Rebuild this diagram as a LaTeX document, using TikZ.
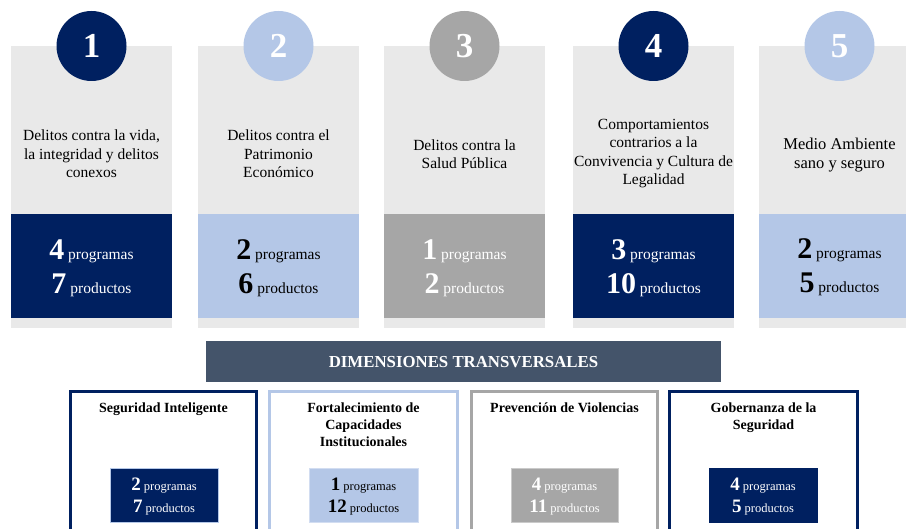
\documentclass[tikz,border=0pt]{standalone}
\usepackage{fontspec}
\setmainfont{Liberation Serif}
\usetikzlibrary{positioning}
\definecolor{navy}{HTML}{002060}
\definecolor{lightblue}{HTML}{B4C7E7}
\definecolor{midgray}{HTML}{A6A6A6}
\definecolor{cardgray}{HTML}{E9E9E9}
\definecolor{slate}{HTML}{44546A}
\newcommand{\bignum}[1]{{\fontsize{30}{30}\selectfont\bfseries #1}}
\newcommand{\smallnum}[1]{{\fontsize{19}{19}\selectfont\bfseries #1}}
\tikzset{
	numcircle/.style={circle,minimum size=70pt,inner sep=0pt,text=white,font=\fontsize{35}{35}\selectfont\bfseries},
	cardtext/.style={align=center,inner sep=0pt,font=\fontsize{15.5}{18.5}\selectfont},
	countline/.style={anchor=base,inner sep=0pt,font=\fontsize{15.5}{18}\selectfont},
	bannertext/.style={inner sep=0pt,text=white,font=\fontsize{16.8}{18}\selectfont\bfseries},
	dimbox/.style={line width=3pt},
	dimtitle/.style={anchor=north,align=center,inner sep=0pt,font=\fontsize{14}{17}\selectfont\bfseries},
	countbox/.style={line width=0.8pt},
	smallcount/.style={anchor=base,inner sep=0pt,font=\fontsize{12.5}{14}\selectfont},
}

\begin{document}
\begin{tikzpicture}[x=1pt,y=-1pt]
	\clip (0,0) rectangle (906,529);
	\fill [white] (0,0) rectangle (906,529);
	
	% card 1.....................
	\fill [cardgray] (11,46) rectangle (172,328);
	\fill [navy] (11,214) rectangle (172,318);
	\node [numcircle, fill=navy] (c1) at (91.5,46) {1};
	\node [cardtext] (d1) at (91.5,154) {Delitos contra la vida,\\la integridad y delitos\\conexos};
	\node [countline, text=white] (p1) at (91.5,260) {\bignum{4} programas};
	\node [countline, text=white] (q1) at (91.5,294) {\bignum{7} productos};
	
	% card 2.....................
	\fill [cardgray] (198,46) rectangle (359,328);
	\fill [lightblue] (198,214) rectangle (359,318);
	\node [numcircle, fill=lightblue] (c2) at (278.5,46) {2};
	\node [cardtext] (d2) at (278.5,154) {Delitos contra el\\Patrimonio\\Económico};
	\node [countline] (p2) at (278.5,260) {\bignum{2} programas};
	\node [countline] (q2) at (278.5,294) {\bignum{6} productos};
	
	% card 3.....................
	\fill [cardgray] (384,46) rectangle (545,328);
	\fill [midgray] (384,214) rectangle (545,318);
	\node [numcircle, fill=midgray] (c3) at (464.5,46) {3};
	\node [cardtext] (d3) at (464.5,154) {Delitos contra la\\Salud Pública};
	\node [countline, text=white] (p3) at (464.5,260) {\bignum{1} programas};
	\node [countline, text=white] (q3) at (464.5,294) {\bignum{2} productos};
	
	% card 4.....................
	\fill [cardgray] (573,46) rectangle (734,328);
	\fill [navy] (573,214) rectangle (734,318);
	\node [numcircle, fill=navy] (c4) at (653.5,46) {4};
	\node [cardtext] (d4) at (653.5,153.5) {Comportamientos\\contrarios a la\\Convivencia y Cultura de\\Legalidad};
	\node [countline, text=white] (p4) at (653.5,260) {\bignum{3} programas};
	\node [countline, text=white] (q4) at (653.5,294) {\bignum{10} productos};
	
	% card 5.....................
	\fill [cardgray] (759,46) rectangle (920,328);
	\fill [lightblue] (759,214) rectangle (920,318);
	\node [numcircle, fill=lightblue] (c5) at (839.5,46) {5};
	\node [cardtext, font=\fontsize{16.5}{19.5}\selectfont] (d5) at (839.5,155) {Medio Ambiente\\sano y seguro};
	\node [countline] (p5) at (839.5,259) {\bignum{2} programas};
	\node [countline] (q5) at (839.5,293) {\bignum{5} productos};
	
	% banner......................
	\fill [slate] (206,341) rectangle (721,382);
	\node [bannertext] (dim) at (463.5,362) {DIMENSIONES TRANSVERSALES};
	
	% transversal boxes...........
	\draw [dimbox, draw=navy] (70.5,391.5) rectangle (256.5,545);
	\node [dimtitle] (t1) at (163.5,402.5) {Seguridad Inteligente};
	\filldraw [countbox, fill=navy, draw=lightblue] (110,468) rectangle (218,522);
	\node [smallcount, text=white] (s1) at (164,490) {\smallnum{2} programas};
	\node [smallcount, text=white] (r1) at (164,512) {\smallnum{7} productos};
	
	\draw [dimbox, draw=lightblue] (269.5,391.5) rectangle (457.5,545);
	\node [dimtitle] (t2) at (363.5,402.5) {Fortalecimiento de\\Capacidades\\Institucionales};
	\filldraw [countbox, fill=lightblue, draw=lightblue!60] (309,468) rectangle (418,522);
	\node [smallcount] (s2) at (363.5,490) {\smallnum{1} programas};
	\node [smallcount] (r2) at (363.5,512) {\smallnum{12} productos};
	
	\draw [dimbox, draw=midgray] (471.5,391.5) rectangle (657.5,545);
	\node [dimtitle] (t3) at (564.5,402.5) {Prevención de Violencias};
	\filldraw [countbox, fill=midgray, draw=midgray!60] (511,468) rectangle (618,522);
	\node [smallcount, text=white] (s3) at (564.5,490) {\smallnum{4} programas};
	\node [smallcount, text=white] (r3) at (564.5,512) {\smallnum{11} productos};
	
	\draw [dimbox, draw=navy] (669.5,391.5) rectangle (857.5,545);
	\node [dimtitle] (t4) at (763.5,402.5) {Gobernanza de la\\Seguridad};
	\filldraw [countbox, fill=navy, draw=navy] (709,468) rectangle (817,522);
	\node [smallcount, text=white] (s4) at (763,490) {\smallnum{4} programas};
	\node [smallcount, text=white] (r4) at (763,512) {\smallnum{5} productos};
\end{tikzpicture}
\end{document}
